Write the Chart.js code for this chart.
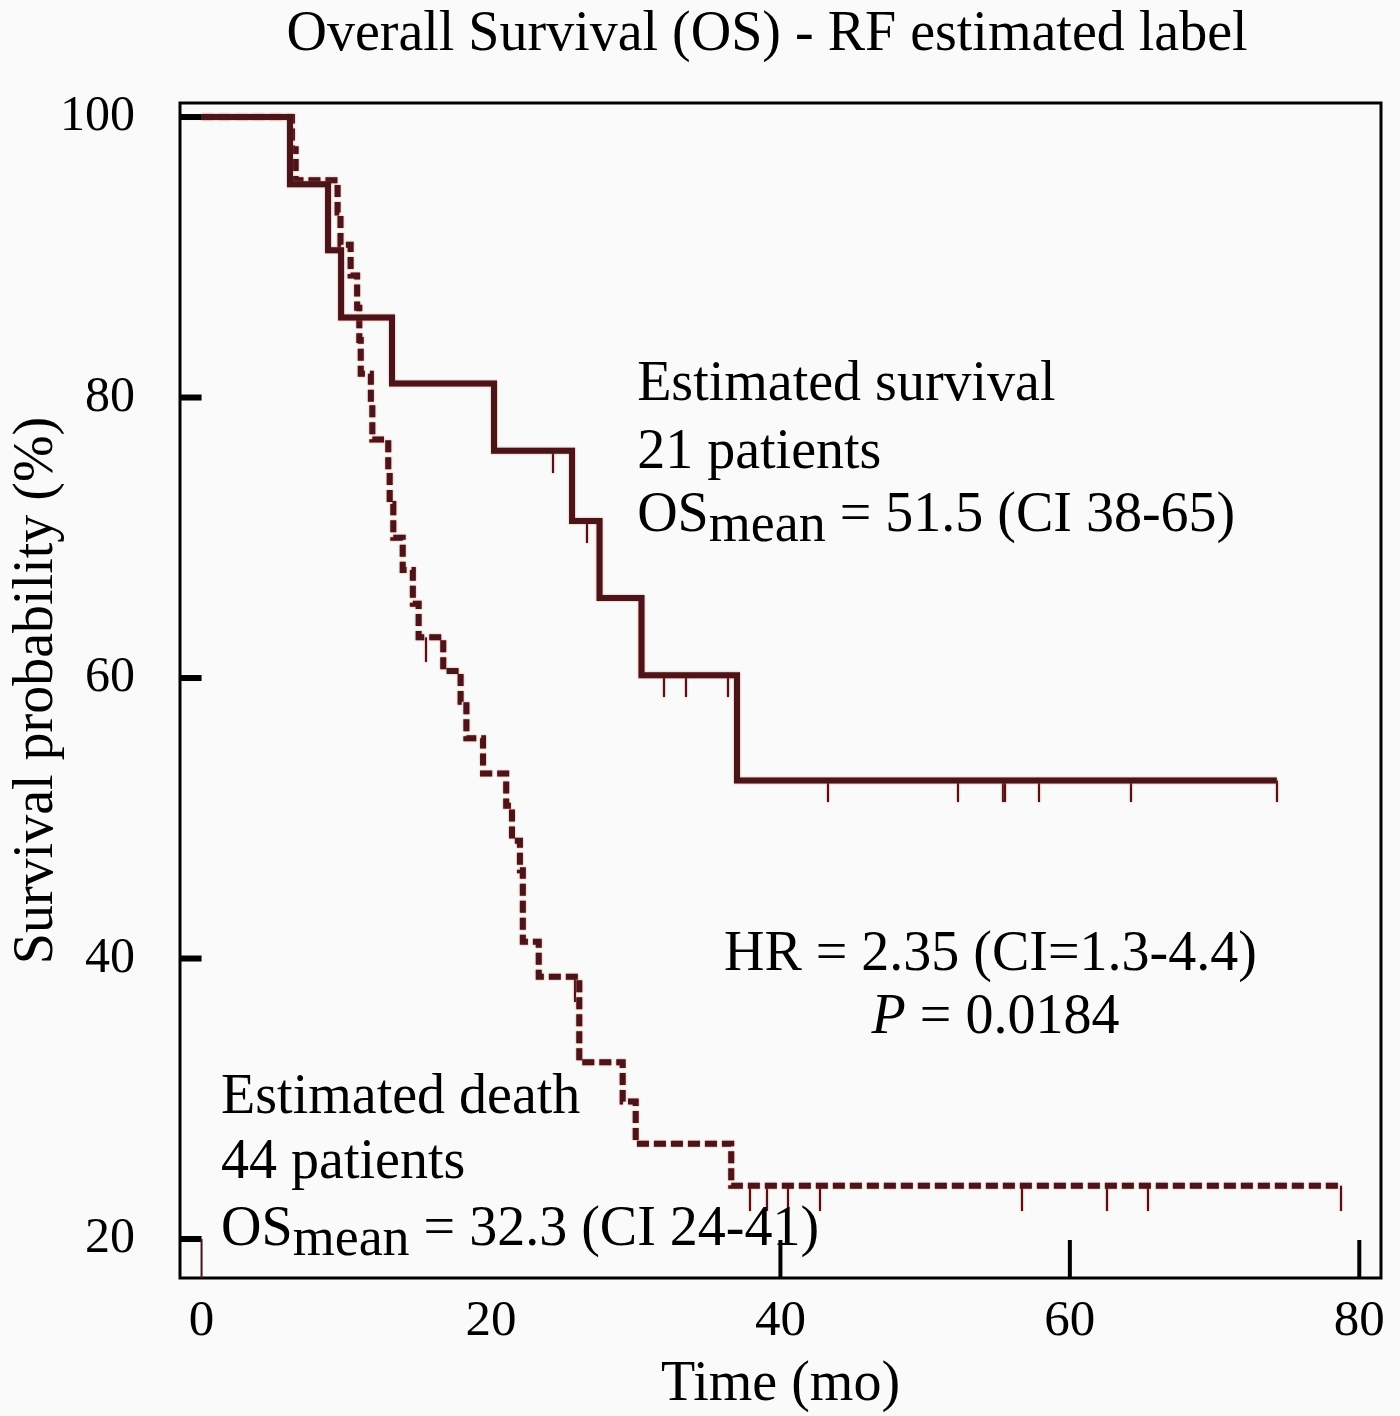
<!DOCTYPE html>
<html><head><meta charset="utf-8">
<script src="https://cdn.jsdelivr.net/npm/chart.js@4.4.1/dist/chart.umd.min.js"></script>
<style>html,body{margin:0;padding:0;background:#fafafa;} #wrap{width:1400px;height:1416px;position:relative;} canvas{display:block;}</style>
</head><body><div id="wrap"><canvas id="c" width="1400" height="1416" style="width:1400px;height:1416px"></canvas></div>
<script>
// ---- data ----
const survTimes    = [0, 6.11, 8.74, 9.64, 13.16, 20.21, 25.6, 27.5, 30.4, 37.0, 74.3];
const survValues   = [100, 95.2, 90.5, 85.7, 81.0, 76.2, 71.2, 65.7, 60.2, 52.7, 52.7];
const survCensored = [24.3, 26.6, 31.95, 33.5, 36.4, 43.3, 52.3, 55.35, 55.55, 57.9, 64.2, 74.3];

const deathTimes    = [0, 6.25, 6.5, 9.4, 9.6, 10.3, 10.75, 10.9, 11.0, 11.7, 11.8, 12.9, 13.0, 13.25, 13.9, 14.6, 15.0, 16.7, 17.9, 18.3, 19.45, 21.05, 21.45, 22.0, 22.2, 23.3, 26.1, 29.1, 30.0, 36.6, 78.75];
const deathValues   = [100, 97.7, 95.5, 93.2, 90.9, 88.7, 86.4, 84.1, 81.7, 79.5, 77.0, 74.8, 72.4, 70.0, 67.7, 65.3, 62.9, 60.5, 58.3, 55.7, 53.2, 50.9, 48.4, 46.3, 41.2, 38.7, 32.6, 29.8, 26.8, 23.8, 23.8];
const deathCensored = [15.5, 25.8, 37.9, 39.1, 40.5, 42.7, 56.7, 62.6, 65.4, 78.75];

const xTicks = [0, 20, 40, 60, 80];
const yTicks = [20, 40, 60, 80, 100];
const xInnerTicks = [40, 60, 80];

const titleText = 'Overall Survival (OS) - RF estimated label';
const xTitle = 'Time (mo)';
const yTitle = 'Survival probability (%)';

// ---- helpers ----
const LINE = '#4a1518';
const FONT = '"Liberation Serif", "Times New Roman", serif';
function levelAt(times, values, t) {
  let v = values[0];
  for (let i = 0; i < times.length; i++) { if (times[i] <= t) v = values[i]; }
  return v;
}
function makeTick(len, w, color) {
  const c = document.createElement('canvas');
  c.width = w; c.height = len * 2;
  const g = c.getContext('2d');
  g.fillStyle = color; g.fillRect(0, len, w, len);
  return c;
}
const survPts  = survTimes.map((t, i) => ({x: t, y: survValues[i]}));
const deathPts = deathTimes.map((t, i) => ({x: t, y: deathValues[i]}));
const survCens  = survCensored.map(t => ({x: t, y: levelAt(survTimes, survValues, t)}));
const deathCens = deathCensored.map(t => ({x: t, y: levelAt(deathTimes, deathValues, t)}));

// annotation text (positions in data units)
const notes = [
  {x: 30.1, y: 79.8, parts: [{t: 'Estimated survival'}]},
  {x: 30.1, y: 75.0, parts: [{t: '21 patients'}]},
  {x: 30.1, y: 70.5, parts: [{t: 'OS'}, {t: 'mean', size: 54, dy: 10}, {t: ' = 51.5 (CI 38-65)'}]},
  {x: 36.1, y: 39.2, parts: [{t: 'HR = 2.35 (CI=1.3-4.4)'}]},
  {x: 46.3, y: 34.7, parts: [{t: 'P', italic: true}, {t: ' = 0.0184'}]},
  {x: 1.35, y: 28.95, parts: [{t: 'Estimated death'}]},
  {x: 1.35, y: 24.35, parts: [{t: '44 patients'}]},
  {x: 1.35, y: 19.6, parts: [{t: 'OS'}, {t: 'mean', size: 54, dy: 10}, {t: ' = 32.3 (CI 24-41)'}]}
];

const halo = {
  id: 'halo',
  beforeDatasetsDraw(chart) { const c = chart.ctx; c.save(); c.shadowColor = 'rgba(215,95,95,0.75)'; c.shadowBlur = 2; },
  afterDatasetsDraw(chart) { chart.ctx.restore(); }
};

const decor = {
  id: 'decor',
  afterDraw(chart) {
    const {ctx, chartArea: a, scales: {x, y}} = chart;
    ctx.save();
    // frame
    ctx.strokeStyle = '#000'; ctx.lineWidth = 3;
    ctx.strokeRect(a.left, a.top, a.right - a.left, a.bottom - a.top);
    // inner y ticks
    ctx.fillStyle = '#000';
    yTicks.forEach(v => { const py = y.getPixelForValue(v); ctx.fillRect(a.left, py - 3, x.getPixelForValue(0) - a.left, 6); });
    // inner x ticks
    const y20 = y.getPixelForValue(20);
    xInnerTicks.forEach(v => { const px = x.getPixelForValue(v); ctx.fillRect(px - 2, y20 + 1, 4, a.bottom - y20 - 1); });
    ctx.fillStyle = LINE;
    const p0 = x.getPixelForValue(0);
    ctx.fillRect(p0 - 1, y20, 2, a.bottom - y20);
    // title
    ctx.fillStyle = '#000';
    ctx.font = '56px ' + FONT;
    ctx.textAlign = 'center'; ctx.textBaseline = 'alphabetic';
    ctx.fillText(titleText, 767, 50);
    // notes
    ctx.textAlign = 'left';
    notes.forEach(n => {
      let px = x.getPixelForValue(n.x);
      const py = y.getPixelForValue(n.y);
      n.parts.forEach(p => {
        ctx.font = (p.italic ? 'italic ' : '') + (p.size || 56) + 'px ' + FONT;
        ctx.fillText(p.t, px, py + (p.dy || 0));
        px += ctx.measureText(p.t).width;
      });
    });
    ctx.restore();
  }
};

new Chart(document.getElementById('c'), {
  type: 'line',
  data: {
    datasets: [
      {label: 'Estimated survival', data: survPts, stepped: 'before', borderColor: LINE, borderWidth: 6, pointRadius: 0, fill: false, borderCapStyle: 'butt'},
      {label: 'Estimated death', data: deathPts, stepped: 'before', borderColor: LINE, borderWidth: 6, borderDash: [12, 5], pointRadius: 0, fill: false, borderCapStyle: 'butt'},
      {label: 'censored (survival)', data: survCens, showLine: false, pointStyle: makeTick(22, 2, LINE), pointRadius: 3},
      {label: 'censored (death)', data: deathCens, showLine: false, pointStyle: makeTick(25, 2, LINE), pointRadius: 3}
    ]
  },
  options: {
    responsive: false,
    animation: false,
    devicePixelRatio: 1,
    layout: {padding: {left: 0, right: 19, top: 103, bottom: 0}},
    plugins: {legend: {display: false}, tooltip: {enabled: false}, title: {display: false}},
    scales: {
      x: {
        type: 'linear', min: -1.49, max: 81.5,
        afterBuildTicks: s => { s.ticks = xTicks.map(v => ({value: v})); },
        afterFit: s => { s.height = 138; },
        grid: {display: false}, border: {display: false},
        ticks: {color: '#000', padding: 5, maxRotation: 0, font: {family: FONT, size: 51}},
        title: {display: true, text: xTitle, color: '#000', font: {family: FONT, size: 56, lineHeight: 1}, padding: {top: 0, bottom: 3}}
      },
      y: {
        type: 'linear', min: 17.22, max: 101.0,
        afterBuildTicks: s => { s.ticks = yTicks.map(v => ({value: v})); },
        afterFit: s => { s.width = 180; },
        grid: {display: false}, border: {display: false},
        ticks: {color: '#000', padding: 37, font: {family: FONT, size: 50}},
        title: {display: true, text: yTitle, color: '#000', font: {family: FONT, size: 56, lineHeight: 1}, padding: {top: 9, bottom: 0}}
      }
    }
  },
  plugins: [halo, decor]
});
</script></body></html>
